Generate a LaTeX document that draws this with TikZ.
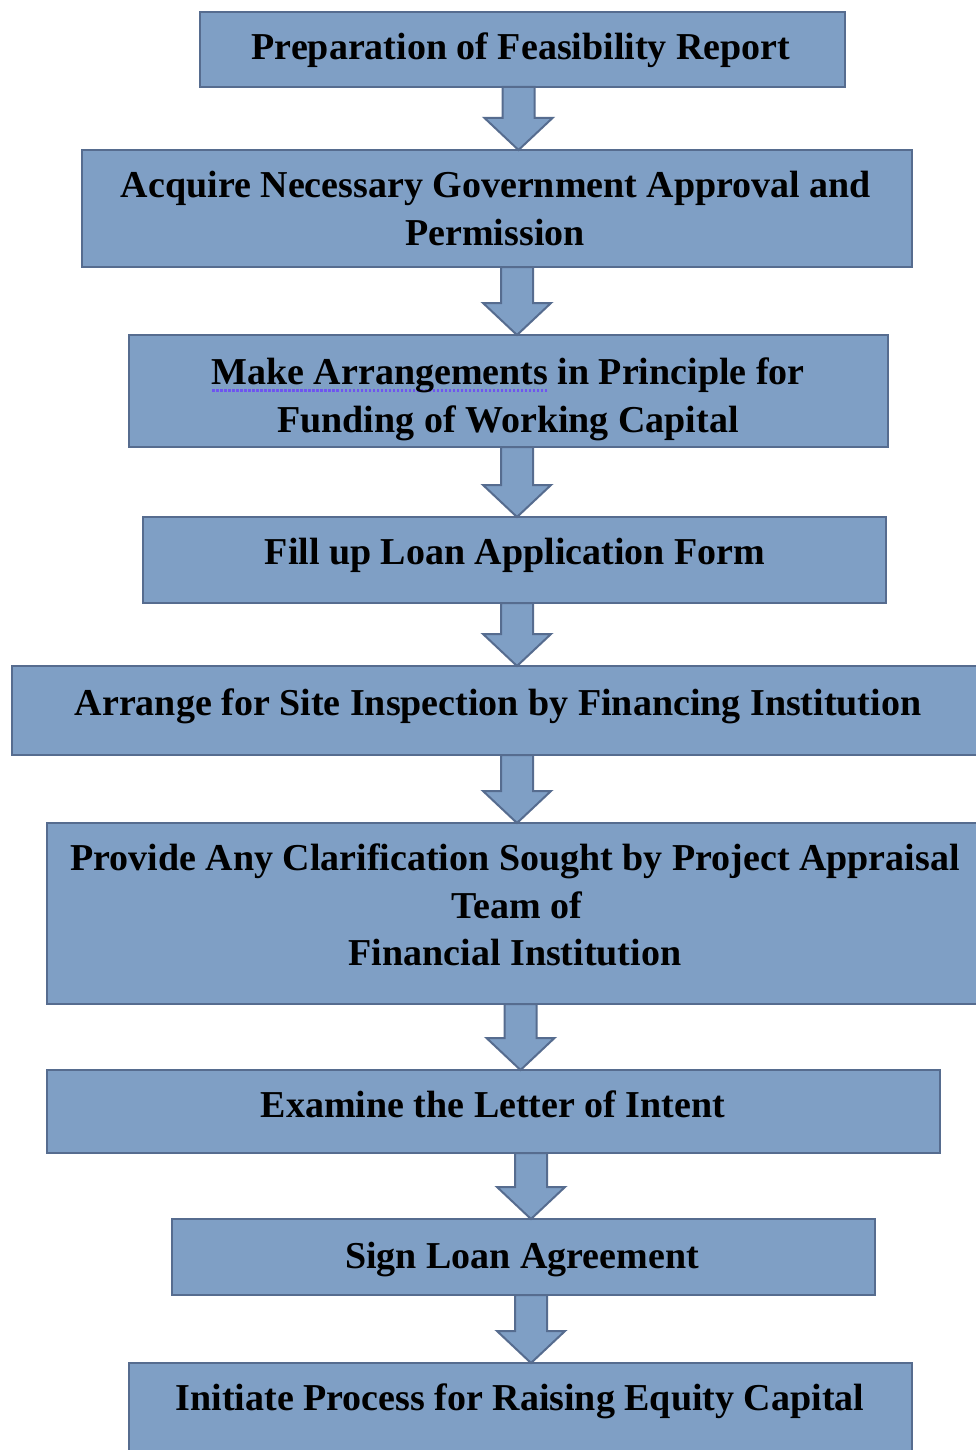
\documentclass[tikz,border=0pt]{standalone}
\usepackage{fontspec}
\setmainfont{Liberation Serif}
\usetikzlibrary{calc}
\definecolor{boxfill}{RGB}{127,159,197}
\definecolor{boxline}{RGB}{86,108,143}
\definecolor{spellblue}{RGB}{110,85,240}

% dotted spell-check style underline under a phrase
\newlength\spellw
\newcommand\spellmark[1]{\settowidth\spellw{#1}\leavevmode
  \rlap{\raisebox{-7.5pt}{\color{spellblue}\hbox to\spellw{\xleaders\hbox to 4pt{\hss\rule{2.4pt}{2.4pt}\hss}\hfill}}}#1}

% block arrow from the bottom of one box to the top of the next
\newcommand\flowarrow[3]{%
  \path[flow] let \p1=(#1.south), \p2=(#2.north) in
    (#3pt-16pt,\y1) -- (#3pt+16pt,\y1) -- (#3pt+16pt,\y2+32pt) -- (#3pt+34pt,\y2+32pt)
    -- (#3pt,\y2) -- (#3pt-34pt,\y2+32pt) -- (#3pt-16pt,\y2+32pt) -- cycle;}

\begin{document}
\begin{tikzpicture}[x=1pt,y=-1pt,
  stepbox/.style={draw=boxline, fill=boxfill, line width=2.5pt, rectangle, inner sep=0pt, outer sep=0pt},
  steptext/.style={anchor=base, inner sep=0pt, font=\fontsize{38}{48}\selectfont\bfseries},
  flow/.style={draw=boxline, fill=boxfill, line width=2pt, line join=miter}]
\useasboundingbox (0,0) rectangle (976,1450);
\fill[white] (0,0) rectangle (976,1450);

% boxes
\node[stepbox, minimum width=645pt, minimum height=75pt]  (b1) at (522.5,49.5) {};
\node[stepbox, minimum width=830pt, minimum height=117pt] (b2) at (497,208.5) {};
\node[stepbox, minimum width=759pt, minimum height=112pt] (b3) at (508.5,391) {};
\node[stepbox, minimum width=743pt, minimum height=86pt]  (b4) at (514.5,560) {};
\node[stepbox, minimum width=972pt, minimum height=89pt]  (b5) at (498,710.5) {};
\node[stepbox, minimum width=936pt, minimum height=181pt] (b6) at (515,913.5) {};
\node[stepbox, minimum width=893pt, minimum height=83pt]  (b7) at (493.5,1111.5) {};
\node[stepbox, minimum width=703pt, minimum height=76pt]  (b8) at (523.5,1257) {};
\node[stepbox, minimum width=783pt, minimum height=97pt]  (b9) at (520.5,1411.5) {};

% arrows
\flowarrow{b1}{b2}{518.5}
\flowarrow{b2}{b3}{517}
\flowarrow{b3}{b4}{517}
\flowarrow{b4}{b5}{517}
\flowarrow{b5}{b6}{517}
\flowarrow{b6}{b7}{520.5}
\flowarrow{b7}{b8}{531}
\flowarrow{b8}{b9}{531}

% texts
\node[steptext] (t1)  at (521,60)  {Preparation of Feasibility Report};
\node[steptext] (t2a) at (496,197) {Acquire Necessary Government Approval and};
\node[steptext] (t2b) at (495,245) {Permission};
\node[steptext] (t3a) at (508,384) {\spellmark{Make Arrangements} in Principle for};
\node[steptext] (t3b) at (508,432) {Funding of Working Capital};
\node[steptext] (t4)  at (515,564) {Fill up Loan Application Form};
\node[steptext] (t5)  at (498,715) {Arrange for Site Inspection by Financing Institution};
\node[steptext] (t6a) at (515,870) {Provide Any Clarification Sought by Project Appraisal};
\node[steptext] (t6b) at (517,918) {Team of};
\node[steptext] (t6c) at (515,965) {Financial Institution};
\node[steptext] (t7)  at (493,1117) {Examine the Letter of Intent};
\node[steptext] (t8)  at (522,1268) {Sign Loan Agreement};
\node[steptext] (t9)  at (520,1410) {Initiate Process for Raising Equity Capital};
\end{tikzpicture}
\end{document}
